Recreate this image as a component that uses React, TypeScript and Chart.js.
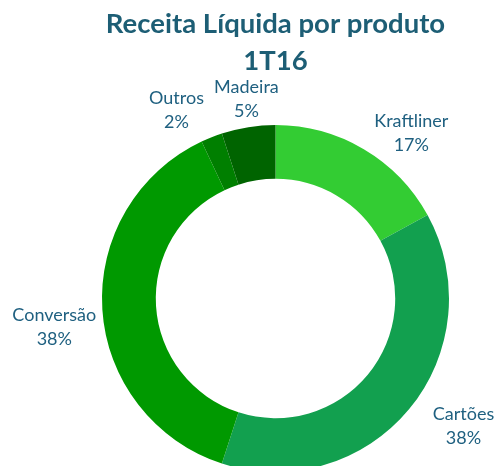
import React, { useEffect, useRef } from "react";
import { Chart, registerables } from "chart.js";

Chart.register(...registerables);

const categories = ["Kraftliner", "Cartões", "Conversão", "Outros", "Madeira"];
const shares = [17, 38, 38, 2, 5];
const shareLabels = ["17%", "38%", "38%", "2%", "5%"];
const sliceColors = ["#33CC33", "#12A04F", "#009900", "#007F00", "#006400"];
const titleLines = ["Receita Líquida por produto", "1T16"];

// label placement tweaks (degrees around the ring, pixels beyond outer edge)
const labelAngleShift = [8.8, -5.5, -3.7, -6.1, 0.7];
const labelGap = [40.5, 53.5, 49.5, 39.5, 28];

const FONT = "Lato, 'Open Sans', sans-serif";

const labelPlugin = {
  id: "outerLabels",
  afterDraw(chart: any) {
    const ctx = chart.ctx;
    const meta = chart.getDatasetMeta(0);
    ctx.save();
    ctx.fillStyle = "#1f6080";
    ctx.font = `18px ${FONT}`;
    ctx.textAlign = "center";
    ctx.textBaseline = "middle";
    meta.data.forEach((arc: any, i: number) => {
      const mid = (arc.startAngle + arc.endAngle) / 2 + (labelAngleShift[i] * Math.PI) / 180;
      const r = arc.outerRadius + labelGap[i];
      const x = arc.x + Math.cos(mid) * r;
      const y = arc.y + Math.sin(mid) * r;
      ctx.fillText(categories[i], x, y - 12);
      ctx.fillText(shareLabels[i], x, y + 12);
    });
    ctx.restore();
  },
};

export default function App() {
  const ref = useRef<HTMLCanvasElement>(null);
  useEffect(() => {
    const chart = new Chart(ref.current as HTMLCanvasElement, {
      type: "doughnut",
      data: {
        labels: categories,
        datasets: [
          {
            data: shares,
            backgroundColor: sliceColors,
            borderWidth: 0,
            radius: 173.5,
            clip: false,
          } as any,
        ],
      },
      options: {
        animation: false,
        responsive: false,
        cutout: "69%",
        layout: { padding: { left: 57, top: 0, right: 0, bottom: 0 } },
        plugins: {
          legend: { display: false },
          tooltip: { enabled: false },
          title: {
            display: true,
            text: titleLines,
            color: "#1d5e75",
            font: { family: FONT, size: 27.5, weight: "bold", lineHeight: 37 / 27.5 },
            padding: { top: 6, bottom: 51 },
          },
        },
      } as any,
      plugins: [labelPlugin],
    });
    return () => chart.destroy();
  }, []);
  return (
    <div style={{ position: "fixed", left: 0, top: 0, width: 494, height: 466, background: "#fff" }}>
      <canvas ref={ref} width={494} height={466} style={{ display: "block" }} />
    </div>
  );
}
